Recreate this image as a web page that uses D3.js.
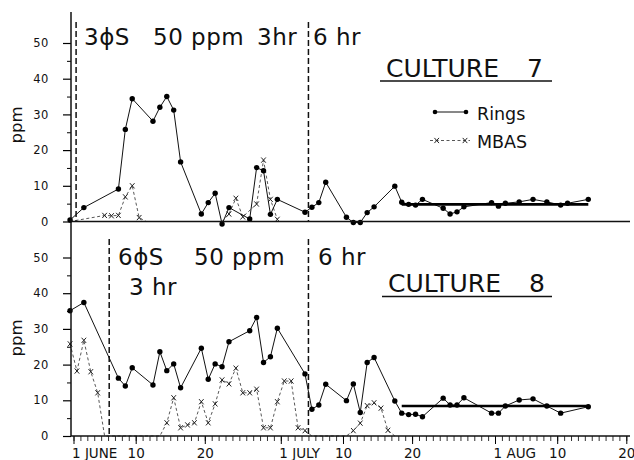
<!DOCTYPE html>
<html>
<head>
<meta charset="utf-8">
<script src="https://cdn.jsdelivr.net/npm/d3@7"></script>
<style>
  body { margin: 0; background: #fff; }
  svg { font-family: "DejaVu Sans", "Liberation Sans", sans-serif; }
</style>
</head>
<body>
<svg id="canvas" width="634" height="460"></svg>
<script>
// ---- data (samples taken around midday) ----
const year = 1965;

// culture 7
const rings7Dates = ["05-31","06-02","06-07","06-08","06-09","06-12","06-13","06-14","06-15","06-16",
  "06-19","06-20","06-21","06-22","06-23","06-26","06-27","06-28","06-29","06-30",
  "07-04","07-05","07-06","07-07","07-10","07-11","07-12","07-13","07-14","07-17",
  "07-18","07-19","07-20","07-21","07-24","07-25","07-26","07-27","07-31","08-01",
  "08-02","08-04","08-06","08-08","08-10","08-11","08-14"];
const rings7Values = [0.4, 3.9, 9.1, 25.8, 34.4, 28.1, 32, 35, 31.2, 16.7,
  2.1, 5.3, 7.9, -0.7, 3.9, 0.7, 15.1, 14.2, 2.0, 6.2,
  2.6, 4.0, 5.3, 11.0, 1.2, -0.3, -0.3, 2.5, 4.1, 9.9,
  5.4, 4.8, 4.6, 6.2, 3.7, 2.1, 2.7, 4.1, 5.3, 4.3,
  5.1, 5.5, 6.2, 5.5, 4.6, 5.1, 6.2];
const mbas7Dates = ["05-31","06-05","06-06","06-07","06-08","06-09","06-10","06-11","06-22",
  "06-23","06-24","06-25","06-27","06-28","06-29","06-30"];
const mbas7Values = [0, 1.7, 1.6, 1.7, 6.9, 10.0, 1.1, 0, 0,
  2.1, 6.5, 1.3, 4.9, 17.2, 6.2, 0.6];

// culture 8
const rings8Dates = ["05-31","06-02","06-07","06-08","06-09","06-12","06-13","06-14","06-15","06-16",
  "06-19","06-20","06-21","06-22","06-23","06-26","06-27","06-28","06-29","06-30",
  "07-04","07-05","07-06","07-07","07-10","07-11","07-12","07-13","07-14","07-17",
  "07-18","07-19","07-20","07-21","07-24","07-25","07-26","07-27","07-31","08-01",
  "08-02","08-04","08-06","08-08","08-10","08-14"];
const rings8Values = [35.1, 37.4, 16.2, 14.0, 19.1, 14.3, 23.6, 18.3, 20.2, 13.5,
  24.6, 15.9, 20.2, 19.4, 26.4, 29.5, 33.2, 20.6, 22.2, 30.2,
  17.4, 7.5, 8.7, 14.5, 9.9, 14.6, 6.6, 20.6, 22.0, 9.8,
  6.4, 6.0, 6.1, 5.4, 10.6, 8.7, 8.7, 10.7, 6.4, 6.4,
  8.4, 10.1, 10.4, 8.4, 6.4, 8.2];
const mbas8Dates = ["05-31","06-01","06-02","06-03","06-04","06-05","06-13","06-14","06-15","06-16",
  "06-17","06-18","06-19","06-20","06-21","06-22","06-23","06-24","06-25","06-26",
  "06-27","06-28","06-29","06-30","07-01","07-02","07-03","07-04","07-05","07-10",
  "07-11","07-12","07-13","07-14","07-15","07-16","07-17"];
const mbas8Values = [25.8, 18.2, 26.8, 18.0, 12.1, 0, 0, 3.7, 10.7, 2.3,
  3.1, 3.7, 9.6, 3.7, 9.0, 15.7, 14.6, 19.0, 12.1, 12.1,
  13.1, 2.3, 2.3, 9.6, 15.4, 15.4, 2.3, 1.5, 0, 0,
  1.5, 3.6, 8.5, 9.3, 7.8, 1.6, 0];

// mean level over the last period
const meanPeriod = ["07-18", "08-14"];
const mean7 = 4.8;
const mean8 = 8.4;

// treatment change dates (dashed lines), "MM-DD HH"
const phase7 = ["06-01 09", "07-05 00"];
const phase8 = ["06-06 04", "07-05 00"];

const yTicks = [0, 10, 20, 30, 40, 50];
const yMinor = [5, 15, 25, 35, 45];
const xLabelDates = ["06-01","06-10","06-20","07-01","07-10","07-20","08-01","08-10","08-20"];
const xLabelTexts = ["1 JUNE","10","20","1 JULY","10","20","1 AUG","10","20"];

// ---- drawing ----
const parse = d3.timeParse("%Y-%m-%d %H");
const day = (s, h = 12) => parse(`${year}-${s} ${h}`);
const dayHr = s => parse(`${year}-${s}`);

const svg = d3.select("#canvas");
const axisX = 71, axisRight = 630;
const ink = "#111";

const x = d3.scaleTime()
  .domain([day("06-01", 0), day("08-20", 0)])
  .range([73.5, 626.3]);

const yTop = d3.scaleLinear().domain([0, 50]).range([221.5, 43]);
const yBot = d3.scaleLinear().domain([0, 50]).range([436, 257.5]);

// X marker for MBAS
const cross = "M-2.3,-2.6L2.3,2.6M-2.3,2.6L2.3,-2.6";

function panel(y, rDates, rValues, mDates, mValues, mean, phases, phaseTop) {
  const g = svg.append("g");

  // left axis ticks
  g.append("g")
    .attr("transform", `translate(${axisX},0)`)
    .call(d3.axisLeft(y).tickValues(yTicks).tickSize(8).tickPadding(14))
    .call(a => a.select(".domain").remove())
    .call(a => a.selectAll("line").attr("stroke-width", 1.2))
    .call(a => a.selectAll("text")
      .attr("font-family", "DejaVu Sans, sans-serif")
      .attr("font-size", 11.5)
      .attr("letter-spacing", 0.6)
      .attr("fill", ink));
  g.append("g")
    .attr("transform", `translate(${axisX},0)`)
    .call(d3.axisLeft(y).tickValues(yMinor).tickSize(4).tickFormat(""))
    .call(a => a.select(".domain").remove());

  // dashed treatment lines
  g.selectAll(".phase")
    .data(phases)
    .join("line")
    .attr("x1", d => x(dayHr(d))).attr("x2", d => x(dayHr(d)))
    .attr("y1", phaseTop).attr("y2", y(0))
    .attr("stroke", ink)
    .attr("stroke-width", 1.5)
    .attr("stroke-dasharray", "6,3");

  // MBAS
  const mbas = mDates.map((d, i) => ({ d: day(d), v: mValues[i] }));
  g.append("path")
    .datum(mbas)
    .attr("fill", "none")
    .attr("stroke", "#444")
    .attr("stroke-width", 0.9)
    .attr("stroke-dasharray", "3,2.5")
    .attr("d", d3.line().x(p => x(p.d)).y(p => y(p.v)));
  g.selectAll(".mx")
    .data(mbas.filter(p => p.v > 0))
    .join("path")
    .attr("transform", p => `translate(${x(p.d)},${y(p.v)})`)
    .attr("d", cross)
    .attr("stroke", "#222")
    .attr("stroke-width", 1);

  // rings
  const rings = rDates.map((d, i) => ({ d: day(d), v: rValues[i] }));
  g.append("path")
    .datum(rings)
    .attr("fill", "none")
    .attr("stroke", ink)
    .attr("stroke-width", 1)
    .attr("d", d3.line().x(p => x(p.d)).y(p => y(p.v)));
  g.selectAll(".rd")
    .data(rings)
    .join("circle")
    .attr("cx", p => x(p.d))
    .attr("cy", p => y(p.v))
    .attr("r", 2.7)
    .attr("fill", "#000");

  // mean line
  g.append("line")
    .attr("x1", x(day(meanPeriod[0]))).attr("x2", x(day(meanPeriod[1])))
    .attr("y1", y(mean)).attr("y2", y(mean))
    .attr("stroke", "#000")
    .attr("stroke-width", 2.6);

  return g;
}

const panel7 = panel(yTop, rings7Dates, rings7Values, mbas7Dates, mbas7Values, mean7, phase7, 22);
const panel8 = panel(yBot, rings8Dates, rings8Values, mbas8Dates, mbas8Values, mean8, phase8, 239);

// baselines
svg.append("line")
  .attr("x1", axisX).attr("x2", axisRight)
  .attr("y1", yTop(0)).attr("y2", yTop(0))
  .attr("stroke", ink).attr("stroke-width", 1.3);

// bottom time axis
svg.append("g")
  .attr("transform", `translate(0,${yBot(0)})`)
  .call(d3.axisBottom(x)
    .tickValues(d3.timeDay.range(day("06-01", 0), day("08-21", 0)))
    .tickSize(5).tickFormat(""))
  .call(a => a.select(".domain").remove())
  .call(a => a.selectAll("line").attr("stroke", "#333"));

const lab = svg.append("g")
  .attr("transform", `translate(0,${yBot(0)})`)
  .call(d3.axisBottom(x)
    .tickValues(xLabelDates.map(d => day(d, 0)))
    .tickFormat((d, i) => xLabelTexts[i])
    .tickSize(8).tickPadding(4))
  .call(a => a.select(".domain").remove());
lab.selectAll("text")
  .attr("font-family", "DejaVu Sans, sans-serif")
  .attr("font-size", 13.5)
  .attr("fill", ink)
  .attr("text-anchor", (d, i) => xLabelTexts[i].startsWith("1 ") ? "start" : "middle")
  .attr("dx", (d, i) => xLabelTexts[i].startsWith("1 ") ? -2 : 0);

svg.append("line")
  .attr("x1", axisX).attr("x2", axisRight)
  .attr("y1", yBot(0)).attr("y2", yBot(0))
  .attr("stroke", ink).attr("stroke-width", 1.3);

// vertical axis
svg.append("line")
  .attr("x1", axisX).attr("x2", axisX)
  .attr("y1", 12).attr("y2", yBot(0))
  .attr("stroke", ink).attr("stroke-width", 1.5);

// ppm labels
[125, 338].forEach(cy => {
  svg.append("text")
    .attr("transform", `translate(22,${cy}) rotate(-90)`)
    .attr("text-anchor", "middle")
    .attr("font-size", 16.5)
    .attr("fill", ink)
    .text("ppm");
});

// treatment annotations
const big = (tx, ty, s) => svg.append("text")
  .attr("x", tx).attr("y", ty)
  .attr("font-size", 23)
  .attr("letter-spacing", 0.5)
  .attr("fill", ink)
  .text(s);
big(84, 45, "3ϕS");
big(153, 45, "50 ppm");
big(257, 45, "3hr");
big(313, 45, "6 hr");
big(118, 265, "6ϕS");
big(194, 265, "50 ppm");
big(129, 295, "3 hr");
big(318, 265, "6 hr");

// culture titles
[["7", 386, 77.3, 81], ["8", 388, 291.7, 296.5]].forEach(([n, tx, ty, uy]) => {
  svg.append("text")
    .attr("x", tx).attr("y", ty)
    .attr("font-size", 25)
    .attr("fill", ink)
    .text("CULTURE");
  svg.append("text")
    .attr("x", tx + 141).attr("y", ty)
    .attr("font-size", 25)
    .attr("fill", ink)
    .text(n);
  svg.append("line")
    .attr("x1", tx - 6).attr("x2", 552)
    .attr("y1", uy).attr("y2", uy)
    .attr("stroke", ink).attr("stroke-width", 1.5);
});

// legend
const leg = svg.append("g");
leg.append("line").attr("x1", 435).attr("x2", 466).attr("y1", 112).attr("y2", 112)
  .attr("stroke", ink).attr("stroke-width", 1);
leg.selectAll("circle").data([435, 466]).join("circle")
  .attr("cx", d => d).attr("cy", 112).attr("r", 2.3).attr("fill", "#000");
leg.append("text").attr("x", 477).attr("y", 119.5).attr("font-size", 17.5)
  .attr("fill", ink).text("Rings");
leg.append("line").attr("x1", 430).attr("x2", 470).attr("y1", 140.5).attr("y2", 140.5)
  .attr("stroke", "#444").attr("stroke-width", 0.9).attr("stroke-dasharray", "3,2.5");
leg.selectAll(".lx").data([436.7, 465]).join("path")
  .attr("transform", d => `translate(${d},140.5)`)
  .attr("d", cross).attr("stroke", "#222").attr("stroke-width", 1);
leg.append("text").attr("x", 477).attr("y", 148.3).attr("font-size", 17.5)
  .attr("fill", ink).text("MBAS");
</script>
</body>
</html>
